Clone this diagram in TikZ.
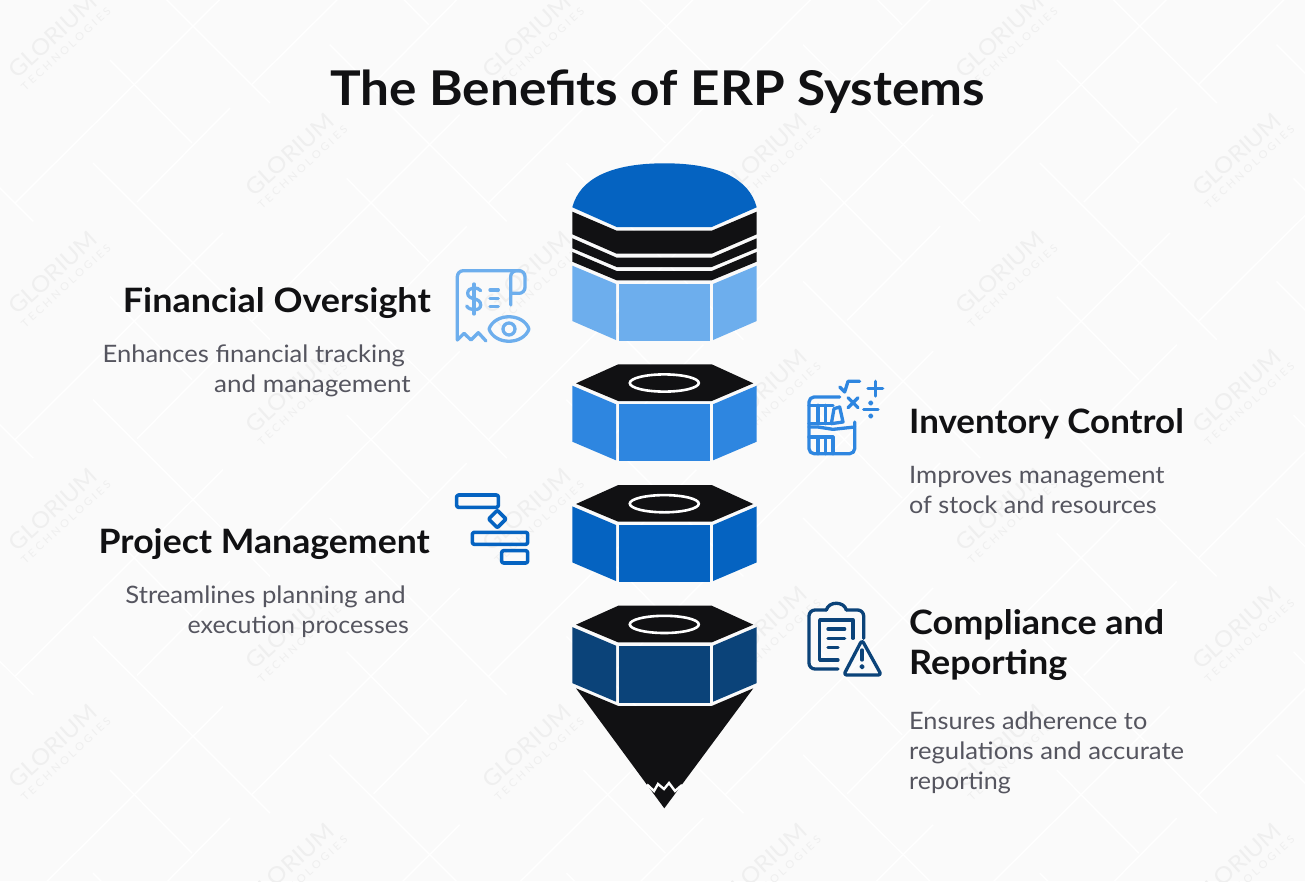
\documentclass[tikz,border=0pt]{standalone}
\usepackage{graphicx}
\usepackage{fontspec}
\setmainfont[FakeStretch=1.07]{Lato}
\newcommand{\fitx}[2]{\scalebox{#1}[1]{#2}}
\definecolor{pagebg}{HTML}{FAFAFA}
\definecolor{markgray}{HTML}{EFEFEF}
\definecolor{inkblack}{HTML}{111113}
\definecolor{bodygray}{HTML}{55555F}
\definecolor{lightblue}{HTML}{6DAEED}
\definecolor{midblue}{HTML}{2E86E0}
\definecolor{coreblue}{HTML}{0563C1}
\definecolor{darkblue}{HTML}{0B4379}
\tikzset{
  headtext/.style={inner sep=0pt,text=inkblack,font=\fontsize{33.6}{40}\selectfont\bfseries},
  bodytext/.style={inner sep=0pt,text=bodygray,font=\fontsize{24}{30}\selectfont},
  iconline/.style={line width=3.3pt,line cap=round,line join=round,fill=none},
  cutline/.style={draw=white,line width=2.4pt},
  latline/.style={draw=white,line width=1.4pt}
}
\begin{document}
\begin{tikzpicture}[x=1pt,y=-1pt]
  \useasboundingbox (0,0) rectangle (1305,881);
  \fill[pagebg] (0,0) rectangle (1305,881);
  \begin{scope}
    \clip (0,0) rectangle (1305,881);
    \foreach \i in {-1,...,6} {
      \foreach \j in {-2,...,4} {
        \pgfmathsetmacro{\ox}{236.7*\i}
        \pgfmathsetmacro{\oy}{236.7*\j+118.35*mod(\i+2,2)}
        \begin{scope}[shift={(\ox,\oy)}]
          \draw[latline] (93,-73.7) -- (270,103);
          \draw[latline] (223,-3.7) -- (15,203);
          \draw[latline] (110,60) -- (192,143);
          \draw[latline] (230,108) -- (137,202);
          \node[rotate=42.5,text=markgray,inner sep=0pt,font=\fontsize{22.5}{24}\selectfont] (mark\i\j) at (53,36) {GLORIUM};
          \node[rotate=42.5,text=markgray,inner sep=0pt,font=\fontsize{10.5}{11}\selectfont] (sub\i\j) at (66,49) {T E C H N O L O G I E S};
        \end{scope}
      }
    }
  \end{scope}

  \node[inner sep=0pt,anchor=base,text=inkblack,font=\fontsize{47.9}{50}\selectfont\bfseries] (title) at (657.5,105) {The Benefits of ERP Systems};

  \fill[coreblue] (572.3,207.3) .. controls (580,178) and (612,163.3) .. (664.5,163.3) .. controls (717,163.3) and (749,178) .. (756.7,207.3) -- (711.7,227) -- (616.7,227) -- cycle;
  \fill[inkblack] (572.3,211.7) -- (616.7,230.7) -- (711.7,230.7) -- (756.7,211.7) -- (756.7,234.3) -- (711.7,253.7) -- (616.7,253.7) -- (572.3,234.3) -- cycle;
  \fill[inkblack] (572.3,238.3) -- (616.7,257.7) -- (711.7,257.7) -- (756.7,238.3) -- (756.7,248.3) -- (711.7,267) -- (616.7,267) -- (572.3,248.3) -- cycle;
  \fill[inkblack] (572.3,252) -- (616.7,271) -- (711.7,271) -- (756.7,252) -- (756.7,261.7) -- (711.7,280.3) -- (616.7,280.3) -- (572.3,261.7) -- cycle;
  \fill[lightblue] (572.3,265.7) -- (616,284) -- (616,340) -- (572.3,321) -- cycle;
  \fill[lightblue] (619.3,284) rectangle (709.7,340.7);
  \fill[lightblue] (713,284) -- (756.7,265.7) -- (756.7,321) -- (713,340) -- cycle;

  \foreach \dy/\sidecolor in {0/midblue,120.7/coreblue,241.4/darkblue} {
    \begin{scope}[shift={(0,\dy)}]
      \fill[inkblack] (576,383.3) -- (618.3,364.3) -- (711.7,364.3) -- (753.3,383.3) -- (711.7,401) -- (618.3,401) -- cycle;
      \draw[white,line width=2.6pt] (664.3,383) ellipse (34.5 and 8.6);
      \fill[\sidecolor] (572.3,385.7) -- (616,404.3) -- (616,460.3) -- (572.3,441.7) -- cycle;
      \fill[\sidecolor] (619.3,404.3) rectangle (709.7,461.3);
      \fill[\sidecolor] (713,404.3) -- (756.7,385.7) -- (756.7,441.7) -- (713,460.3) -- cycle;
    \end{scope}
  }
  \fill[inkblack] (576,688.3) -- (618.3,706) -- (711.7,706) -- (753.3,688.3) -- (664.3,808.3) -- cycle;
  \draw[cutline,line join=miter] (647,784.5) -- (654,791) -- (658,784) -- (664,789) -- (669,783) -- (675,791) -- (682,785);

  \node[headtext,anchor=base east] (finhead) at (431,312) {Financial Oversight};
  \node[bodytext,anchor=base east] (fintxta) at (405,362) {\fitx{.995}{Enhances financial tracking}};
  \node[bodytext,anchor=base east] (fintxtb) at (411,392) {\fitx{1.015}{and management}};

  \node[headtext,anchor=base east] (prjhead) at (430,553) {\fitx{.991}{Project Management}};
  \node[bodytext,anchor=base east] (prjtxta) at (406,603) {Streamlines planning and};
  \node[bodytext,anchor=base east] (prjtxtb) at (409,633) {\fitx{.973}{execution processes}};

  \node[headtext,anchor=base west] (invhead) at (909,433) {\fitx{.971}{Inventory Control}};
  \node[bodytext,anchor=base west] (invtxta) at (909,483) {Improves management};
  \node[bodytext,anchor=base west] (invtxtb) at (909,513) {\fitx{.98}{of stock and resources}};

  \node[headtext,anchor=base west] (comheada) at (909,634) {Compliance and};
  \node[headtext,anchor=base west] (comheadb) at (909,674) {Reporting};
  \node[bodytext,anchor=base west] (comtxta) at (909,729) {\fitx{.984}{Ensures adherence to}};
  \node[bodytext,anchor=base west] (comtxtb) at (909,759) {regulations and accurate};
  \node[bodytext,anchor=base west] (comtxtc) at (909,789) {\fitx{.975}{reporting}};

  \begin{scope}[shift={(445,260)},scale=1/3,draw=lightblue]
    \draw[iconline,rounded corners=6pt] (37,240) -- (37,32) -- (240,32) -- (240,100) -- (197,100);
    \draw[iconline,rounded corners=6pt] (197,135) -- (197,32) -- (225,32);
    \draw[iconline] (37,240) -- (57,220) -- (78,240) -- (100,218) -- (123,243);
    \draw[iconline] (107,92) .. controls (100,80) and (68,80) .. (68,100) .. controls (68,122) and (107,110) .. (107,135) .. controls (107,155) and (72,152) .. (65,138);
    \draw[iconline] (87,72) -- (87,162);
    \draw[iconline] (135,90) -- (160,90) (135,115) -- (160,115) (135,140) -- (160,140);
    \draw[iconline] (132,207) .. controls (150,158) and (234,158) .. (252,207) .. controls (234,256) and (150,256) .. (132,207) -- cycle;
    \draw[iconline] (192,207) circle (18);
  \end{scope}

  \begin{scope}[shift={(798,372)},scale=1/3,draw=midblue]
    \draw[iconline,rounded corners=5pt] (170,150) -- (170,245) -- (33,245) -- (33,75) -- (125,75);
    \draw[iconline] (33,100) -- (105,100) (60,100) -- (60,155) (82,100) -- (82,155) (33,155) -- (100,155);
    \draw[iconline] (100,155) -- (108,110) -- (125,105) -- (135,150) -- (100,155);
    \draw[iconline] (33,165) -- (60,165) -- (105,172) -- (170,165);
    \draw[iconline] (33,195) -- (105,195) (60,195) -- (60,245) (82,195) -- (82,245) (105,195) -- (105,245);
    \draw[iconline] (125,45) -- (140,60) -- (150,28) -- (185,28);
    \draw[iconline] (150,77) -- (180,107) (180,77) -- (150,107);
    \draw[iconline] (232,28) -- (232,72) (210,50) -- (254,50);
    \draw[iconline] (197,112) -- (240,112);
    \draw[iconline,line width=2pt] (218,93) circle (5) (218,132) circle (5);
  \end{scope}

  \begin{scope}[shift={(445,485)},scale=1/3,draw=coreblue]
    \draw[iconline,line width=3.6pt,rounded corners=2pt] (35,30) rectangle (160,67);
    \draw[iconline,line width=3.6pt,rounded corners=1pt] (157,76) -- (183,102) -- (157,128) -- (131,102) -- cycle;
    \draw[iconline,line width=3.6pt,rounded corners=2pt] (82,142) rectangle (248,178);
    \draw[iconline,line width=3.6pt,rounded corners=2pt] (170,197) rectangle (248,234);
  \end{scope}

  \begin{scope}[shift={(798,595)},scale=1/3,draw=darkblue]
    \draw[iconline,rounded corners=6pt] (120,222) -- (33,222) -- (33,45) -- (85,45);
    \draw[iconline] (85,45) .. controls (92,18) and (138,18) .. (145,45);
    \draw[iconline,rounded corners=6pt] (145,45) -- (197,45) -- (197,130);
    \draw[iconline] (165,130) -- (165,75) -- (65,75) -- (65,195) -- (120,195);
    \draw[iconline] (90,102) -- (140,102) (90,130) -- (140,130) (90,157) -- (120,157);
    \draw[iconline,rounded corners=3pt] (192,135) -- (250,240) -- (137,240) -- cycle;
    \draw[iconline] (192,165) -- (192,195);
    \draw[iconline,line width=2pt] (192,215) circle (5);
  \end{scope}
\end{tikzpicture}
\end{document}
